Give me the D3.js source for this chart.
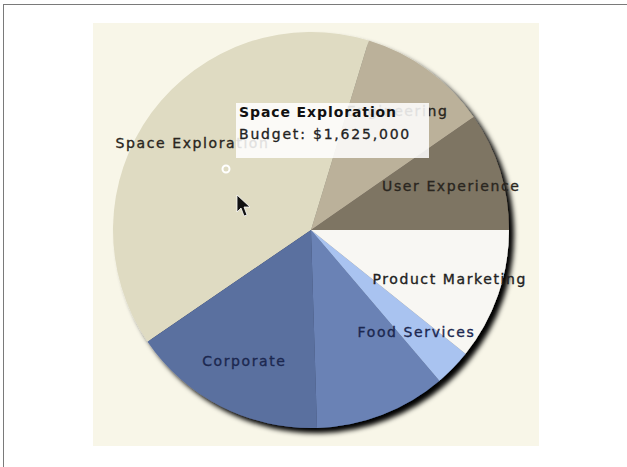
<!DOCTYPE html>
<html>
<head>
<meta charset="utf-8">
<script src="https://cdn.jsdelivr.net/npm/d3@7"></script>
<style>
  html, body { margin: 0; padding: 0; background: #ffffff; }
  svg { display: block; }
  text { font-family: "DejaVu Sans", Verdana, sans-serif; }
</style>
</head>
<body>
<svg id="chart" width="627" height="467"></svg>
<script>
// ---- data (counter-clockwise from 3 o'clock) ----
const categories = ["User Experience", "Engineering", "Space Exploration", "Corporate", "", "Food Services", "Product Marketing"];
const budgets    = [400000, 440000, 1625000, 660000, 445000, 125000, 445000];
const colors     = ["#7e7464", "#bbb19a", "#dfdbc2", "#5a6f9f", "#6a82b5", "#a9c3f0", "#f8f7f3"];
const labelColors = ["#2a2620", "#2a2620", "#2a2620", "#1c2850", "#1c2850", "#1c2850", "#222222"];
const tooltipIndex = 2;

const svg = d3.select("#chart");

// outer frame
svg.append("rect").attr("x", 3.5).attr("y", 4.5).attr("width", 640).attr("height", 480)
  .attr("fill", "#ffffff").attr("stroke", "#7a7a7a").attr("stroke-width", 1);

// cream panel
svg.append("rect").attr("x", 93).attr("y", 23).attr("width", 446).attr("height", 423)
  .attr("fill", "#f8f6e8");

const defs = svg.append("defs");
const f = defs.append("filter").attr("id", "shadow")
  .attr("x", "-20%").attr("y", "-20%").attr("width", "140%").attr("height", "140%");
f.append("feDropShadow").attr("dx", 5).attr("dy", 5).attr("stdDeviation", 2.6)
  .attr("flood-color", "#000").attr("flood-opacity", 1);

const cx = 311, cy = 230, R = 198, labelR = 147;

const pie = d3.pie().sort(null).value(d => d)
  .startAngle(Math.PI / 2).endAngle(Math.PI / 2 - 2 * Math.PI);
const arcs = pie(budgets);
const arc = d3.arc().innerRadius(0).outerRadius(R);
const labelArc = d3.arc().innerRadius(labelR).outerRadius(labelR);

const g = svg.append("g").attr("transform", `translate(${cx},${cy})`);
const slices = g.append("g").attr("filter", "url(#shadow)");
slices.selectAll("path").data(arcs).join("path")
  .attr("d", arc)
  .attr("fill", (d, i) => colors[i]);

g.append("g").selectAll("text").data(arcs).join("text")
  .attr("transform", d => `translate(${labelArc.centroid(d)})`)
  .attr("text-anchor", "middle")
  .attr("dy", "0.36em")
  .attr("font-size", 14)
  .attr("letter-spacing", 1.6)
  .attr("fill", (d, i) => labelColors[i])
  .attr("stroke", (d, i) => labelColors[i])
  .attr("stroke-width", 0.35)
  .text((d, i) => categories[i]);

// hover marker and cursor
svg.append("circle").attr("cx", 226).attr("cy", 169).attr("r", 3.5)
  .attr("fill", "none").attr("stroke", "#ffffff").attr("stroke-width", 2);
svg.append("path")
  .attr("transform", "translate(237,195)")
  .attr("d", "M0,0 L0,17 L4,13 L7,21 L10,20 L7,12 L13,12 Z")
  .attr("fill", "#111").attr("stroke", "#ffffff").attr("stroke-width", 0.8);

// tooltip
const fmt = d3.format("$,");
const tip = svg.append("g").attr("transform", "translate(236,103)");
tip.append("rect").attr("width", 193).attr("height", 55)
  .attr("fill", "#ffffff").attr("fill-opacity", 0.86);
tip.append("text").attr("x", 3).attr("y", 14)
  .attr("font-size", 14).attr("font-weight", "bold").attr("letter-spacing", 0.9)
  .attr("fill", "#111").text(categories[tooltipIndex]);
tip.append("text").attr("x", 3).attr("y", 36)
  .attr("font-size", 14).attr("letter-spacing", 1.8)
  .attr("fill", "#222").attr("stroke", "#222").attr("stroke-width", 0.3)
  .text("Budget: " + fmt(budgets[tooltipIndex]));
</script>
</body>
</html>
